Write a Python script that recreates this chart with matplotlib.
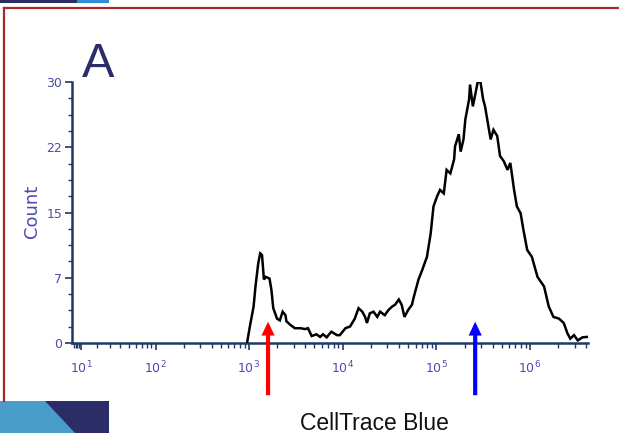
import numpy as np
import matplotlib
matplotlib.use("Agg")
import matplotlib.pyplot as plt
from matplotlib.patches import Polygon, Rectangle
from matplotlib.lines import Line2D

# ---------------- data ----------------
log_intensity = [2.98, 3.01, 3.05, 3.07, 3.10, 3.12, 3.14, 3.16, 3.18, 3.22, 3.24, 3.26,
                 3.30, 3.33, 3.36, 3.39, 3.40, 3.44, 3.49, 3.55, 3.60, 3.63, 3.67, 3.72,
                 3.76, 3.79, 3.83, 3.88, 3.94, 3.97, 4.03, 4.08, 4.13, 4.17, 4.21, 4.24,
                 4.26, 4.29, 4.33, 4.37, 4.40, 4.45, 4.49, 4.53, 4.56, 4.60, 4.63, 4.66,
                 4.70, 4.74, 4.76, 4.79, 4.81, 4.85, 4.90, 4.94, 4.97, 5.01, 5.04, 5.08,
                 5.11, 5.15, 5.19, 5.20, 5.24, 5.26, 5.29, 5.31, 5.35, 5.36, 5.39, 5.42,
                 5.44, 5.47, 5.50, 5.52, 5.55, 5.58, 5.61, 5.65, 5.68, 5.72, 5.76, 5.79,
                 5.83, 5.86, 5.90, 5.93, 5.97, 6.02, 6.08, 6.15, 6.20, 6.25, 6.31, 6.36,
                 6.40, 6.43, 6.47, 6.51, 6.56, 6.61]
counts = [0.0, 1.9, 4.2, 6.5, 9.2, 10.3, 10.1, 7.3, 7.6, 7.4, 6.1, 4.0,
          2.8, 2.6, 3.6, 3.2, 2.5, 2.1, 1.7, 1.7, 1.6, 1.7, 0.8, 1.0,
          0.7, 1.0, 0.65, 1.3, 0.9, 0.9, 1.7, 1.9, 2.8, 4.0, 3.6, 3.0,
          2.3, 3.4, 3.6, 3.0, 3.6, 3.2, 3.8, 4.2, 4.4, 5.0, 4.4, 3.0,
          3.8, 4.4, 5.3, 6.5, 7.3, 8.4, 9.9, 12.6, 15.7, 16.9, 17.6, 17.2,
          19.9, 19.5, 21.1, 22.6, 24.0, 22.0, 23.4, 25.7, 28.0, 29.7, 27.2, 28.8,
          29.9, 30.1, 28.0, 27.2, 25.3, 23.4, 24.5, 23.8, 21.5, 20.9, 19.9, 20.7,
          17.6, 15.7, 14.9, 13.0, 10.7, 9.9, 7.6, 6.5, 4.2, 3.0, 2.8, 2.3,
          1.1, 0.5, 0.9, 0.3, 0.65, 0.7]

x_decades = [1, 2, 3, 4, 5, 6]
y_ticks = [0, 7.5, 15, 22.5, 30]
y_tick_labels = ["0", "7", "15", "22", "30"]
arrow_positions = [1600, 2.6e5]
arrow_colors = ["#ff0000", "#0000ff"]

panel_label = "A"
x_label = "CellTrace Blue"
y_label = "Count"

intensity = [10 ** v for v in log_intensity]

# ---------------- figure ----------------
W, H = 619, 433
fig = plt.figure(figsize=(W / 100, H / 100), dpi=100)
fig.patch.set_facecolor("white")

# slide decorations
navy = "#2a2d66"
light_blue = "#4a9cc9"
border_red = "#a82828"
fig.add_artist(Rectangle((0, 1 - 3 / H), 77 / W, 3 / H, transform=fig.transFigure,
                         color=navy, lw=0))
fig.add_artist(Rectangle((77 / W, 1 - 3 / H), 32 / W, 3 / H, transform=fig.transFigure,
                         color="#2e8fd0", lw=0))
fig.add_artist(Line2D([4 / W, 1], [1 - 7.5 / H, 1 - 7.5 / H], transform=fig.transFigure,
                      color=border_red, lw=1.6))
fig.add_artist(Line2D([4 / W, 4 / W], [1 - 7.5 / H, 1 - 401 / H], transform=fig.transFigure,
                      color=border_red, lw=1.6))
fig.add_artist(Rectangle((0, 0), 109 / W, 32 / H, transform=fig.transFigure,
                         color=light_blue, lw=0))
fig.add_artist(Polygon([(45 / W, 32 / H), (109 / W, 32 / H), (109 / W, 0), (75 / W, 0)],
                       closed=True, transform=fig.transFigure, color=navy, lw=0))

# axes
left, right, bottom_px, top_px = 72, 588, 343, 82
ax = fig.add_axes([left / W, 1 - bottom_px / H, (right - left) / W, (bottom_px - top_px) / H])
ax.set_facecolor("none")

w = 20.0
fwd = lambda x: np.arcsinh(np.asarray(x, dtype=float) / w) / np.log(10)
inv = lambda y: w * np.sinh(np.asarray(y, dtype=float) * np.log(10))
ax.set_xscale("function", functions=(fwd, inv))
ax.set_xlim(5.2, 4.16e6)
ax.set_ylim(0, 30)

ax.plot(intensity, counts, color="black", lw=1.8, solid_joinstyle="miter", zorder=3)

spine_color = "#1e3a66"
tick_color = "#4b4bb0"
for s in ["top", "right"]:
    ax.spines[s].set_visible(False)
for s in ["left", "bottom"]:
    ax.spines[s].set_color(spine_color)
    ax.spines[s].set_linewidth(1.8)

ax.set_xticks([10 ** d for d in x_decades])
ax.set_xticklabels([f"$10^{{{d}}}$" for d in x_decades])
minors = [m * 10 ** k for k in range(0, 7) for m in range(2, 10) if 5.2 <= m * 10 ** k <= 4.16e6]
ax.set_xticks(minors, minor=True)
ax.tick_params(axis="x", which="major", direction="out", length=5, width=1.2,
               color=spine_color, labelsize=9, labelcolor=tick_color, pad=7)
ax.tick_params(axis="x", which="minor", direction="out", length=3.5, width=1.0,
               color=spine_color)

ax.set_yticks(y_ticks)
ax.set_yticklabels(y_tick_labels)
ax.set_yticks(np.arange(0, 30.01, 1.875), minor=True)
ax.tick_params(axis="y", which="major", direction="out", length=5, width=1.2,
               color=spine_color, labelsize=9, labelcolor=tick_color, pad=2)
ax.tick_params(axis="y", which="minor", direction="out", length=3, width=1.0,
               color=spine_color)

# arrows
for xp, c in zip(arrow_positions, arrow_colors):
    ax.annotate("", xy=(xp, 2.45), xytext=(xp, -6.0), xycoords="data", textcoords="data",
                annotation_clip=False,
                arrowprops=dict(arrowstyle="simple,head_length=1.0,head_width=0.95,tail_width=0.3",
                                mutation_scale=10, color=c, shrinkA=0, shrinkB=0, lw=0))

# text
fig.text(82 / W, 1 - 77 / H, panel_label, fontsize=35, color=navy,
         family="Liberation Sans", ha="left", va="baseline")
fig.text(32 / W, 1 - 211 / H, y_label, fontsize=13, color=tick_color, rotation=90,
         ha="center", va="center")
fig.text(374 / W, 1 - 423 / H, x_label, fontsize=16.5, color="#111111",
         family="Liberation Sans", ha="center", va="center")

fig.savefig("out.png", dpi=100, facecolor="white")
